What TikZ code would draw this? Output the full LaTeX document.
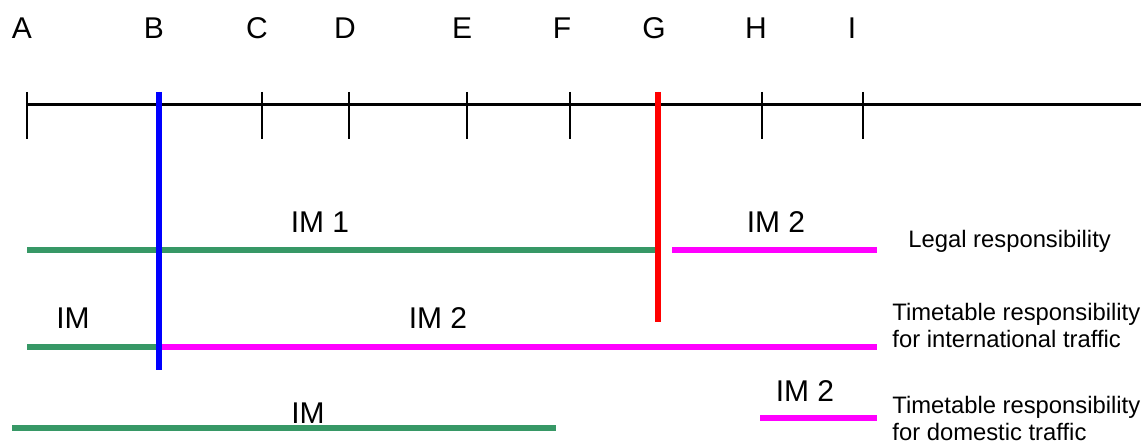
\documentclass[tikz,border=0pt]{standalone}
\usepackage{fontspec}
\setmainfont{Liberation Sans}
\usepackage{tikz}
\usetikzlibrary{positioning}
\definecolor{imgreen}{RGB}{55,152,102}
\definecolor{immagenta}{RGB}{255,0,255}
\definecolor{imblue}{RGB}{0,0,255}
\definecolor{imred}{RGB}{255,0,0}
\tikzset{
  axis/.style={line width=1.5pt, black},
  tickmark/.style={line width=0.8pt, black},
  letter/.style={anchor=base, inner sep=0pt, font=\fontsize{15}{18}\selectfont},
  imlabel/.style={anchor=base, inner sep=0pt, font=\fontsize{15}{18}\selectfont},
  desc/.style={anchor=base west, inner sep=0pt, align=left,
    font=\fontsize{11.9}{13.5}\selectfont},
  greenline/.style={line width=2.6pt, imgreen},
  magline/.style={line width=2.6pt, immagenta},
  blueline/.style={line width=2.9pt, imblue},
  redline/.style={line width=2.9pt, imred}
}
\begin{document}
\begin{tikzpicture}[x=0.5pt, y=-0.5pt]
  \useasboundingbox (0,0) rectangle (1143,443);
  % Axis with stations
  \coordinate (ax0) at (27,105);
  \coordinate (ax1) at (1141,105);
  \draw[axis] (ax0) -- (ax1);
  \foreach \x/\l/\dx in {27/A/-5, 159/B/-5, 262/C/-5, 349/D/-4, 467/E/-5,
                         570/F/-8, 658/G/-4, 762/H/-6, 863/I/-11} {
     \coordinate (top\l) at (\x,92);
     \coordinate (bot\l) at (\x,139);
     \draw[tickmark] (top\l) -- (bot\l);
     \node[letter] (lbl\l) at (\x+\dx,39) {\l};
  }

  % Legal responsibility
  \coordinate (l1a) at (27,250);  \coordinate (l1b) at (658,250);
  \coordinate (l1c) at (672,250); \coordinate (l1d) at (877,250);
  \draw[greenline] (l1a) -- (l1b);
  \draw[magline] (l1c) -- (l1d);
  \node[imlabel] (im1) at (320,232) {IM 1};
  \node[imlabel] (im2a) at (776,232) {IM 2};
  \node[desc] (legal) at (908,247) {Legal responsibility};

  % Timetable, international
  \coordinate (l2a) at (27,347);  \coordinate (l2b) at (159,347);
  \coordinate (l2c) at (877,347);
  \draw[greenline] (l2a) -- (l2b);
  \draw[magline] (l2b) -- (l2c);
  \node[imlabel] (ima) at (73,328) {IM};
  \node[imlabel] (im2b) at (438,328) {IM 2};
  \node[desc] (intl) at (892,347) {Timetable responsibility\\for international traffic};

  % Timetable, domestic
  \coordinate (l3a) at (12,428);  \coordinate (l3b) at (556,428);
  \coordinate (l3c) at (760,418); \coordinate (l3d) at (877,418);
  \draw[greenline] (l3a) -- (l3b);
  \draw[magline] (l3c) -- (l3d);
  \node[imlabel] (imb) at (308,423) {IM};
  \node[imlabel] (im2c) at (805,401) {IM 2};
  \node[desc] (dom) at (892,440) {Timetable responsibility\\for domestic traffic};

  % Borders
  \coordinate (bB) at (159,370);
  \coordinate (bG) at (658,322);
  \draw[blueline] (topB) -- (bB);
  \draw[redline] (topG) -- (bG);
\end{tikzpicture}
\end{document}
